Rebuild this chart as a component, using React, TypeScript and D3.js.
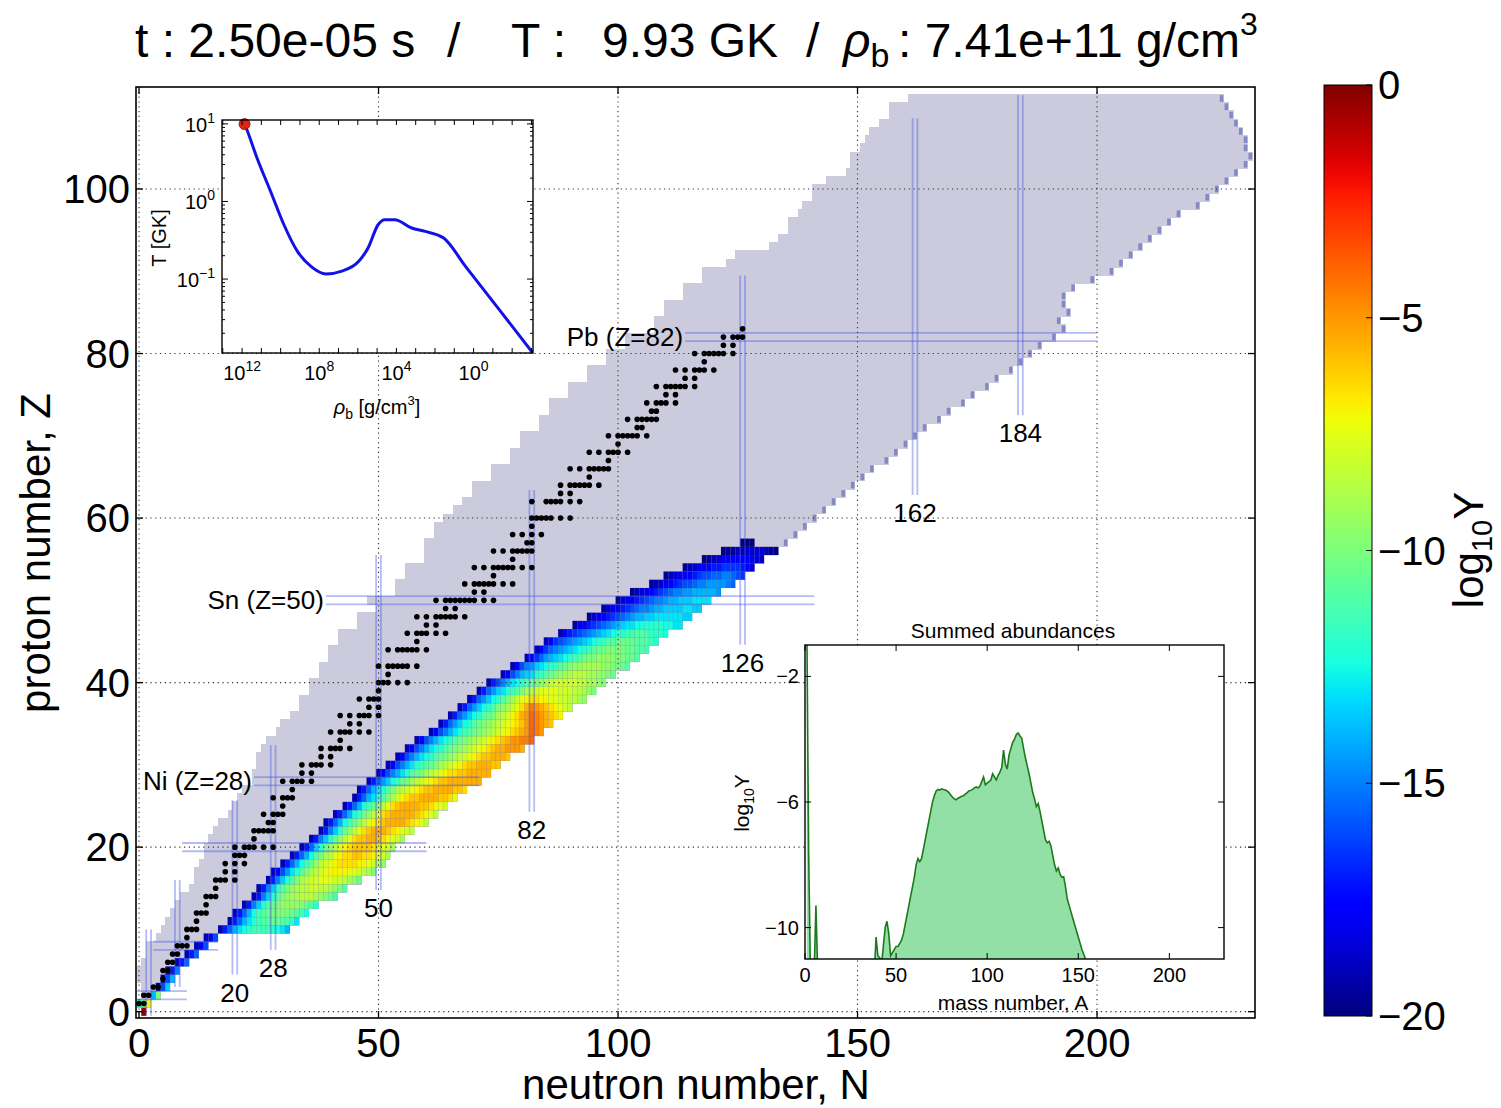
import React from "react";
import * as d3 from "d3";

// ---------------- data ----------------
const mainXTicks = [0, 50, 100, 150, 200];
const mainYTicks = [0, 20, 40, 60, 80, 100];
const colorbarTicks = [0, -5, -10, -15, -20];

// first neutron number of the coloured (abundance) row for Z = 0..57
const abundFirstN = [1, 0, 3, 4, 5, 6, 8, 10, 12, 14,
  17, 19, 20, 22, 24, 25, 27, 28, 30, 32,
  34, 36, 38, 39, 41, 43, 45, 46, 48, 50,
  52, 54, 56, 58, 61, 63, 65, 67, 69, 71,
  73, 76, 78, 81, 83, 85, 88, 91, 94, 97,
  100, 103, 107, 110, 114, 118, 122, 126];

// log10 Y of each cell of the row, from abundFirstN upward (Z = 0..57)
const abundLogY = [
  [-0.3],
  [-12, -10, -7],
  [-14, -10],
  [-19, -16, -13.5],
  [-19, -16, -14],
  [-19, -17, -15],
  [-19, -17, -15.5],
  [-19, -17, -15.5],
  [-19, -17.5, -16],
  [-19, -17.5, -16],
  [-19, -17, -15.5, -14, -13, -12.5, -12, -11.5, -11.5, -11.5, -11.5, -12, -12.5, -13, -14],
  [-19, -17, -15.5, -14, -13, -12, -11.5, -11, -11, -10.5, -10.5, -11, -11, -12, -13],
  [-19, -17, -15.5, -14, -12.5, -11.5, -11, -10.5, -10, -10, -10, -10, -10.5, -11, -11.5, -12.5],
  [-19, -17, -15, -13.5, -12, -11, -10.5, -10, -9.5, -9.5, -9.5, -9.5, -10, -10.5, -11, -12],
  [-19, -17, -15, -13.5, -12, -11, -10, -9.5, -9, -9, -8.5, -8.5, -8.5, -9, -9.5, -10, -10.5, -11.5],
  [-19, -17, -15, -13.5, -12, -11, -10, -9.5, -9, -8.5, -8.5, -8, -8, -8.5, -8.5, -9, -9.5, -10, -11],
  [-19, -17, -15, -13.5, -12, -11, -10, -9, -8.5, -8, -8, -7.5, -7.5, -7.5, -8, -8, -8.5, -9, -9.5, -10.5],
  [-19, -17.5, -16, -14.5, -13, -12, -11, -10, -9, -8.5, -8, -7.5, -7, -7, -7, -7, -7.5, -7.5, -8, -8.5, -9, -10],
  [-19, -17, -15.5, -14, -12.5, -11.5, -10.5, -9.5, -8.5, -8, -7.5, -7, -6.5, -6.5, -6.5, -6.5, -7, -7, -7.5, -8, -8.5, -9.5],
  [-19, -17, -15.5, -14, -12.5, -11, -10, -9, -8.5, -7.5, -7, -6.5, -6.5, -6, -6, -6.5, -6.5, -7, -7.5, -8, -9],
  [-19, -17, -15.5, -13.5, -12, -10.5, -9.5, -8.5, -7.5, -7, -6.5, -6, -6, -6, -6, -6.5, -7, -7.5, -8, -9],
  [-19, -17, -15, -13.5, -12, -10.5, -9.5, -8.5, -7.5, -6.5, -6, -6, -5.5, -5.5, -6, -6.5, -7, -7.5, -8, -9],
  [-19, -17, -15, -13.5, -12, -10.5, -9.5, -8.5, -7.5, -6.5, -6, -5.5, -5.5, -5.5, -6, -6.5, -7, -7.5, -8, -8.5],
  [-19, -17, -15.5, -14, -12.5, -11.5, -10.5, -9.5, -8.5, -7.5, -7, -6.5, -6, -5.5, -5.5, -5.5, -5.5, -6, -6.5, -7, -7.5, -8.5],
  [-19, -17, -15.5, -14, -12.5, -11.5, -10.5, -9.5, -8.5, -7.5, -6.5, -6, -5.5, -5.5, -5.5, -5.5, -5.5, -6, -6.5, -7, -7.5, -8.5],
  [-19, -17, -15.5, -14, -12.5, -11.5, -10.5, -9.5, -8.5, -7.5, -6.5, -6, -5.5, -5.5, -5.5, -5.5, -6, -6, -6.5, -7, -7.5, -8],
  [-19, -17, -15.5, -14, -13, -12, -11, -10, -9, -8, -7, -6.5, -6, -6, -5.5, -5.5, -5.5, -5.5, -6, -6, -6.5, -7.5],
  [-19, -17, -15.5, -14, -13, -12, -11, -10, -9, -8.5, -8, -7.5, -7, -6.5, -6, -6, -5.5, -5.5, -5.5, -5.5, -6, -6, -6.5],
  [-19, -17, -15.5, -14.5, -13.5, -12.5, -11.5, -10.5, -10, -9, -8.5, -8, -7.5, -7, -6.5, -6, -6, -5.5, -5.5, -5.5, -5.5, -5.5, -5.5, -5.5],
  [-19, -17.5, -16, -15, -14, -13, -12, -11, -10.5, -10, -9, -8.5, -8, -7.5, -7, -6.5, -6.5, -6, -6, -5.5, -5.5, -5.5, -5.5, -5.5],
  [-19, -17.5, -16, -15, -14, -13, -12, -11.5, -11, -10.5, -10, -9, -8.5, -8, -7.5, -7, -6.5, -6, -6, -5.5, -5.5, -5.5, -6, -6],
  [-19, -17.5, -16, -15, -14, -13, -12.5, -12, -11, -10.5, -10, -9.5, -9, -8.5, -8, -7.5, -7, -6.5, -6, -6, -5.5, -5.5, -5.5, -6],
  [-19, -17.5, -16, -15, -14, -13, -12.5, -12, -11, -10.5, -10, -9.5, -9, -8.5, -8, -7.5, -7, -6.5, -6, -5.5, -5.5, -5, -5, -5, -5.5],
  [-19, -17.5, -16, -15, -14, -13, -12.5, -12, -11, -10.5, -10, -9.5, -9, -8.5, -8, -7.5, -7, -6.5, -6, -5.5, -5, -5, -4.5, -4.5, -4],
  [-19, -17.5, -16, -15, -14, -13, -12.5, -11.5, -11, -10.5, -10, -9.5, -9, -8.5, -8, -7.5, -7, -6.5, -6, -5.5, -5, -4, -4.5, -5],
  [-19, -17, -15.5, -14.5, -13.5, -12.5, -12, -11, -10.5, -10, -9.5, -9, -8.5, -8, -7.5, -7, -6.5, -6, -5, -4, -4.5, -5, -5.5, -6],
  [-19, -17, -15.5, -14.5, -13.5, -12.5, -12, -11, -10.5, -10, -9, -8.5, -8, -7, -6.5, -5.5, -5, -4, -4.5, -5, -5.5, -6, -6.5, -7],
  [-19, -17, -15.5, -14.5, -13.5, -12.5, -12, -11, -10, -9.5, -9, -8, -7.5, -6.5, -5.5, -4.5, -5, -5.5, -6, -6.5, -7, -7.5, -8, -8.5],
  [-19, -17, -15.5, -14.5, -13.5, -12.5, -12, -11, -10, -9, -8, -7.5, -7, -6.5, -6.5, -7, -7, -7.5, -7.5, -8, -8, -8.5, -8.5, -9, -9.5],
  [-19, -17, -15.5, -14.5, -13.5, -13, -12, -11.5, -11, -10, -9, -8.5, -8, -7.5, -7.5, -7.5, -7.5, -8, -8, -8, -8.5, -8.5, -9, -9.5, -10],
  [-19, -17, -16, -15, -14, -13, -12.5, -12, -11, -10.5, -10, -9.5, -9, -8.5, -8, -8, -8, -8, -8, -8.5, -8.5, -9, -9, -9.5, -10],
  [-19, -17.5, -16, -15, -14, -13.5, -13, -12, -11.5, -11, -10.5, -10, -9.5, -9, -9, -8.5, -8.5, -8.5, -9, -9, -9.5, -9.5, -10, -10.5],
  [-19, -17.5, -16, -15, -14.5, -13.5, -13, -12.5, -12, -11.5, -11, -10.5, -10, -9.5, -9.5, -9, -9, -9, -9, -9.5, -9.5, -10, -10, -10.5, -11],
  [-19, -17.5, -16.5, -15.5, -14.5, -14, -13.5, -13, -12.5, -12, -11.5, -11, -10.5, -10, -10, -9.5, -9.5, -9.5, -9.5, -10, -10, -10.5, -10.5, -11],
  [-19, -17.5, -16.5, -15.5, -15, -14.5, -14, -13.5, -13, -12.5, -12, -11.5, -11, -10.5, -10.5, -10, -10, -10, -10, -10.5, -10.5, -11, -11, -11.5],
  [-19, -17.5, -16.5, -16, -15.5, -15, -14.5, -14, -13.5, -13, -12.5, -12, -11.5, -11, -11, -10.5, -10.5, -10.5, -10.5, -11, -11, -11, -11.5, -12],
  [-19, -18, -17, -16.5, -16, -15.5, -15, -14.5, -14, -13.5, -13, -12.5, -12, -12, -11.5, -11.5, -11, -11, -11.5, -11.5, -12, -12, -12.5],
  [-19.5, -18, -17.5, -17, -16.5, -16, -15.5, -15, -14.5, -14, -13.5, -13, -13, -12.5, -12.5, -12, -12, -12, -12, -12.5, -12.5, -13, -13],
  [-19.5, -18.5, -18, -17.5, -17, -16.5, -16, -15.5, -15, -14.5, -14, -14, -13.5, -13.5, -13, -13, -13, -13, -13, -13, -13.5, -13.5],
  [-19.5, -18.5, -18, -17.5, -17, -16.5, -16, -15.5, -15, -15, -14.5, -14, -14, -13.5, -13.5, -13.5, -13.5, -13, -13, -13.5, -13.5],
  [-19.5, -18.5, -18, -17.5, -17, -16.5, -16, -15.5, -15, -15, -14.5, -14, -14, -13.5, -13.5, -13.5, -13, -13, -13, -13],
  [-19.5, -19, -18.5, -18, -17.5, -17, -16.5, -16, -15.5, -15, -15, -14.5, -14.5, -14, -14, -14, -14, -14, -14.5],
  [-19.5, -19, -18.5, -18, -17.5, -17, -16.5, -16, -16, -15.5, -15, -15, -14.5, -14.5, -14.5, -14.5, -15, -15.5],
  [-19.5, -19, -18.5, -18, -17.5, -17.5, -17, -16.5, -16, -16, -15.5, -15.5, -15, -15, -15.5, -16, -16.5],
  [-19.5, -19, -18.5, -18, -18, -17.5, -17, -17, -16.5, -16.5, -16.5, -16.5, -17, -17.5, -18.5],
  [-20, -19.5, -19, -18.5, -18, -18, -17.5, -17.5, -17.5, -17.5, -18, -18.5, -19],
  [-20, -19.5, -19.5, -19, -19, -18.5, -18.5, -18.5, -18.5, -19, -19.5, -20],
  [-20, -20, -20],
];

// network (grey) region: first N for Z = 0..111
const networkLeftN = [1, 0, 1, 1, 0, 0, 1, 2, 2, 4,
  5, 6, 7, 8, 9, 11, 12, 12, 13, 14,
  14, 15, 16, 17, 19, 20, 21, 22, 24, 24,
  25, 25, 26, 27, 29, 30, 32, 34, 34, 36,
  36, 38, 38, 40, 40, 42, 42, 46, 46, 50,
  48, 54, 54, 56, 56, 60, 60, 60, 62, 62,
  64, 66, 68, 70, 70, 74, 74, 78, 78, 80,
  80, 84, 84, 86, 86, 90, 90, 94, 94, 98,
  98, 102, 102, 108, 108, 110, 110, 114, 114, 118,
  118, 123, 125, 132, 134, 136, 136, 138, 139, 141,
  141, 144, 148, 149, 149, 151, 152, 153, 155, 157,
  157, 161];

// last N of the network (drip-line cells) for Z = 57..111
const networkEdgeStartZ = 57;
const networkEdgeN = [135, 137, 139, 141, 143, 145, 147, 149, 151, 153,
  156, 158, 160, 162, 164, 167, 169, 172, 174, 177,
  179, 182, 184, 186, 188, 191, 193, 192, 194, 193,
  193, 195, 199, 203, 205, 207, 209, 211, 213, 215,
  217, 221, 223, 225, 227, 229, 231, 232, 231, 231,
  230, 229, 228, 227, 226];

// stable nuclei: neutron numbers for Z = 0..83
const stableN = [
  [], [0, 1], [1, 2], [3, 4], [5], [5, 6], [6, 7], [7, 8], [8, 9, 10], [10],
  [10, 11, 12], [12], [12, 13, 14], [14], [14, 15, 16], [16], [16, 17, 18, 20], [18, 20], [18, 20, 22], [20, 21, 22],
  [20, 22, 23, 24, 26, 28], [24], [24, 25, 26, 27, 28], [27, 28], [26, 28, 29, 30], [30], [28, 30, 31, 32], [32], [30, 32, 33, 34, 36], [34, 36],
  [34, 36, 37, 38, 40], [38, 40], [38, 40, 41, 42, 44], [42], [40, 42, 43, 44, 46, 48], [44, 46], [42, 44, 46, 47, 48, 50], [48, 50], [46, 48, 49, 50], [50],
  [50, 51, 52, 54, 56], [52], [50, 52, 53, 54, 55, 56, 58], [], [52, 54, 55, 56, 57, 58, 60], [58], [56, 58, 59, 60, 62, 64], [60, 62], [58, 60, 62, 63, 64, 65, 66, 68], [64, 66],
  [62, 64, 65, 66, 67, 68, 69, 70, 72, 74], [70, 72], [68, 70, 71, 72, 73, 74, 76, 78], [74], [70, 72, 74, 75, 76, 77, 78, 80, 82], [78], [74, 76, 78, 79, 80, 81, 82], [81, 82], [78, 80, 82, 84], [82],
  [82, 83, 84, 85, 86, 88, 90], [], [82, 85, 86, 87, 88, 90, 92], [88, 90], [88, 90, 91, 92, 93, 94, 96], [94], [90, 92, 94, 95, 96, 97, 98], [98], [94, 96, 98, 99, 100, 102], [100],
  [98, 100, 101, 102, 103, 104, 106], [104, 105], [102, 104, 105, 106, 107, 108], [107, 108], [106, 108, 109, 110, 112], [110, 112], [108, 110, 111, 112, 113, 114, 116], [114, 116], [112, 114, 116, 117, 118, 120], [118],
  [116, 118, 119, 120, 121, 122, 124], [122, 124], [122, 124, 125, 126], [126],
];

// magic-number guide lines
const magicZ = [2, 8, 20, 28, 50, 82];
const magicZFromN = [-0.5, 3, 9, 24, 39, 114];
const magicZToN = [10, 16.5, 60, 71, 141, 200];
const magicZLabels = ["", "", "", "Ni (Z=28)", "Sn (Z=50)", "Pb (Z=82)"];
const magicN = [2, 8, 20, 28, 50, 82, 126, 162, 184];
const magicNFromZ = [-0.5, 3, 4.5, 7.5, 14.8, 24.3, 44.6, 62.8, 72.5];
const magicNToZ = [10, 16, 25.7, 32.4, 55.5, 63.4, 89.5, 108.6, 111.4];
const magicNLabels = ["", "", "20", "28", "50", "82", "126", "162", "184"];

// inset 1: trajectory
const trajLogRho = [11.87, 11.78, 11.22, 10.52, 9.83, 9.13, 8.43, 7.65, 6.87, 5.95, 5.47, 4.95, 4.6, 4.08, 3.21, 2.51, 1.55, 0.42, -1.32, -3.06];
const trajLogT = [0.997, 0.944, 0.558, 0.129, -0.3, -0.644, -0.836, -0.934, -0.9, -0.77, -0.6, -0.3, -0.235, -0.235, -0.342, -0.386, -0.471, -0.836, -1.39, -1.95];
const currentRho = 7.41e11;
const currentT = 9.93;
const inset1XLabelDecades = [12, 8, 4, 0];
const inset1YDecades = [-1, 0, 1];

// inset 2: summed abundances
const lightA = [1, 2, 3, 4, 5, 6, 7];
const lightLogY = [-0.3, -7.6, -11.5, -11.5, -11.5, -9.3, -11.5];
const sumStartA = 38;
const sumLogY = [-11.5, -10.3, -10.9, -10.95, -11.2, -10.6, -10.0, -9.8, -10.2, -10.9,
  -10.8, -10.7, -10.6, -10.6, -10.5, -10.4, -10.2, -9.9, -9.6, -9.3,
  -9.0, -8.7, -8.4, -8.0, -7.8, -7.9, -7.8, -7.5, -7.2, -6.9,
  -6.6, -6.3, -6.0, -5.8, -5.65, -5.6, -5.62, -5.58, -5.6, -5.62,
  -5.65, -5.7, -5.78, -5.85, -5.9, -5.93, -5.88, -5.85, -5.82, -5.8,
  -5.75, -5.7, -5.65, -5.63, -5.6, -5.55, -5.52, -5.55, -5.5, -5.35,
  -5.2, -5.45, -5.4, -5.35, -5.3, -5.1, -5.2, -5.3, -5.15, -5.05,
  -4.9, -4.35, -4.8, -4.95, -4.5, -4.3, -4.1, -4.0, -3.85, -3.8,
  -3.9, -3.97, -4.3, -4.6, -4.85, -5.1, -5.4, -5.7, -5.9, -6.15,
  -6.05, -6.3, -6.6, -6.9, -7.2, -7.3, -7.25, -7.4, -7.7, -8.0,
  -8.2, -8.1, -8.3, -8.4, -8.38, -8.7, -9.1, -9.3, -9.5, -9.7,
  -9.9, -10.1, -10.3, -10.5, -10.7, -10.85, -11.0, -11.2, -11.5];
const inset2XTicks = [0, 50, 100, 150, 200];
const inset2YTicks = [-2, -6, -10];

// ---------------- layout ----------------
const FONT = "Liberation Sans, Arial, sans-serif";
const PL = 136, PR = 1255, PT = 87, PB = 1018;
const xMain = d3.scaleLinear().domain([-0.63, 232.98]).range([PL, PR]);
const yMain = d3.scaleLinear().domain([-0.77, 112.4]).range([PB, PT]);

const I1 = { l: 222, t: 120, r: 533, b: 353 };
const xI1 = d3.scaleLog().domain([10 ** 13.04, 10 ** -3.08]).range([I1.l, I1.r]);
const yI1 = d3.scaleLog().domain([10 ** -1.953, 10 ** 1.05]).range([I1.b, I1.t]);

const I2 = { l: 805, t: 645, r: 1224, b: 959 };
const xI2 = d3.scaleLinear().domain([0, 230]).range([I2.l, I2.r]);
const yI2 = d3.scaleLinear().domain([-11, -1]).range([I2.b, I2.t]);

const CB = { l: 1324, r: 1372, t: 85, b: 1016 };
const yCB = d3.scaleLinear().domain([-20, 0]).range([CB.b, CB.t]);

// matplotlib "jet"
const jetR = d3.scaleLinear().domain([0, 0.35, 0.66, 0.89, 1]).range([0, 0, 1, 1, 0.5]).clamp(true);
const jetG = d3.scaleLinear().domain([0, 0.125, 0.375, 0.64, 0.91, 1]).range([0, 0, 1, 1, 0, 0]).clamp(true);
const jetB = d3.scaleLinear().domain([0, 0.11, 0.34, 0.65, 1]).range([0.5, 1, 1, 0, 0]).clamp(true);
const toUnit = d3.scaleLinear().domain([-20, 0]).range([0, 1]).clamp(true);
function jet(v) {
  const t = toUnit(v);
  return d3.rgb(jetR(t) * 255, jetG(t) * 255, jetB(t) * 255).formatHex();
}

const GREY = "#cbcbdd";
const EDGE = "#8389c4";
const MAGIC = "rgba(70,85,230,0.4)";

function rowLast(Z) {
  if (Z >= networkEdgeStartZ) return networkEdgeN[Z - networkEdgeStartZ];
  return abundFirstN[Z] + abundLogY[Z].length - 1;
}

export default function App() {
  const cw = (n) => xMain(n + 0.5) - xMain(n - 0.5);
  const ch = yMain(-0.5) - yMain(0.5);

  const greyRows = networkLeftN.map((left, Z) => {
    const right = rowLast(Z);
    return (
      <rect key={"g" + Z} x={xMain(left - 0.5)} y={yMain(Z + 0.5) - 0.4}
        width={xMain(right + 0.5) - xMain(left - 0.5)} height={ch + 0.8} fill={GREY} />
    );
  });

  const edgeCells = networkEdgeN.map((n, i) => {
    const Z = networkEdgeStartZ + i;
    return (
      <rect key={"e" + Z} x={xMain(n - 0.5) + 0.6} y={yMain(Z + 0.5) + 0.8}
        width={cw(n) - 1.2} height={ch - 1.6} fill={EDGE} />
    );
  });

  const cells = [];
  abundLogY.forEach((row, Z) => {
    row.forEach((v, i) => {
      const n = abundFirstN[Z] + i;
      cells.push(
        <rect key={"c" + Z + "_" + n} x={xMain(n - 0.5)} y={yMain(Z + 0.5)}
          width={cw(n)} height={ch} fill={jet(v)} stroke="rgba(0,0,0,0.13)" strokeWidth={0.5} />
      );
    });
  });

  const magicLines = [];
  magicZ.forEach((z, i) => {
    [-0.5, 0.5].forEach((o) => {
      magicLines.push(
        <line key={"mz" + z + o} x1={xMain(magicZFromN[i])} x2={xMain(magicZToN[i])}
          y1={yMain(z + o)} y2={yMain(z + o)} stroke={MAGIC} strokeWidth={1.8} />
      );
    });
  });
  magicN.forEach((n, i) => {
    [-0.5, 0.5].forEach((o) => {
      magicLines.push(
        <line key={"mn" + n + o} y1={yMain(magicNFromZ[i])} y2={yMain(magicNToZ[i])}
          x1={xMain(n + o)} x2={xMain(n + o)} stroke={MAGIC} strokeWidth={1.8} />
      );
    });
  });

  const dots = [];
  stableN.forEach((ns, Z) => ns.forEach((n) => {
    dots.push(<circle key={"s" + Z + "_" + n} cx={xMain(n)} cy={yMain(Z)} r={2.8} fill="#000" />);
  }));

  const grid = [
    ...mainXTicks.map((t) => (
      <line key={"gx" + t} x1={xMain(t)} x2={xMain(t)} y1={PT} y2={PB} stroke="#333" strokeWidth={1.1} strokeDasharray="1.2,3.6" />
    )),
    ...mainYTicks.map((t) => (
      <line key={"gy" + t} y1={yMain(t)} y2={yMain(t)} x1={PL} x2={PR} stroke="#333" strokeWidth={1.1} strokeDasharray="1.2,3.6" />
    )),
  ];

  const ticks = [];
  mainXTicks.forEach((t) => {
    const x = xMain(t);
    ticks.push(<line key={"tb" + t} x1={x} x2={x} y1={PB} y2={PB - 7} stroke="#000" strokeWidth={1.3} />);
    ticks.push(<line key={"tt" + t} x1={x} x2={x} y1={PT} y2={PT + 7} stroke="#000" strokeWidth={1.3} />);
    ticks.push(<text key={"lx" + t} x={x} y={1057} textAnchor="middle" fontSize={40}>{t}</text>);
  });
  mainYTicks.forEach((t) => {
    const y = yMain(t);
    ticks.push(<line key={"tl" + t} x1={PL} x2={PL + 7} y1={y} y2={y} stroke="#000" strokeWidth={1.3} />);
    ticks.push(<line key={"tr" + t} x1={PR} x2={PR - 7} y1={y} y2={y} stroke="#000" strokeWidth={1.3} />);
    ticks.push(<text key={"ly" + t} x={130} y={y + 14} textAnchor="end" fontSize={40}>{t}</text>);
  });

  const magicLabels = [];
  magicZ.forEach((z, i) => {
    if (!magicZLabels[i]) return;
    magicLabels.push(
      <text key={"lz" + z} x={xMain(magicZFromN[i]) - 2} y={yMain(z) + 9} textAnchor="end" fontSize={26}>{magicZLabels[i]}</text>
    );
  });
  magicN.forEach((n, i) => {
    if (!magicNLabels[i]) return;
    magicLabels.push(
      <text key={"ln" + n} x={xMain(n)} y={yMain(magicNFromZ[i]) + 27} textAnchor="middle" fontSize={26}>{magicNLabels[i]}</text>
    );
  });

  // ---- inset 1 ----
  const trajPts = trajLogRho.map((r, i) => [xI1(10 ** r), yI1(10 ** trajLogT[i])]);
  const trajPath = d3.line().curve(d3.curveMonotoneX)(trajPts);
  const i1Ticks = [];
  d3.range(-3, 14).forEach((k) => {
    const x = xI1(10 ** k);
    i1Ticks.push(<line key={"i1b" + k} x1={x} x2={x} y1={I1.b} y2={I1.b - 5} stroke="#000" strokeWidth={1} />);
    i1Ticks.push(<line key={"i1t" + k} x1={x} x2={x} y1={I1.t} y2={I1.t + 5} stroke="#000" strokeWidth={1} />);
  });
  inset1XLabelDecades.forEach((k) => {
    i1Ticks.push(
      <text key={"i1lx" + k} x={xI1(10 ** k)} y={380} textAnchor="middle" fontSize={20}>
        10<tspan fontSize={14} dy={-9}>{k}</tspan>
      </text>
    );
  });
  [-2, -1, 0, 1].forEach((k) => {
    d3.range(1, 10).forEach((m) => {
      const v = m * 10 ** k;
      const [lo, hi] = yI1.domain();
      if (v < lo || v > hi) return;
      const y = yI1(v);
      const len = m === 1 ? 6 : 3;
      i1Ticks.push(<line key={"i1l" + k + m} x1={I1.l} x2={I1.l + len} y1={y} y2={y} stroke="#000" strokeWidth={1} />);
      i1Ticks.push(<line key={"i1r" + k + m} x1={I1.r} x2={I1.r - len} y1={y} y2={y} stroke="#000" strokeWidth={1} />);
    });
  });
  inset1YDecades.forEach((k) => {
    i1Ticks.push(
      <text key={"i1ly" + k} x={215} y={yI1(10 ** k) + 8} textAnchor="end" fontSize={20}>
        10<tspan fontSize={14} dy={-9}>{k < 0 ? "\u2212" + Math.abs(k) : k}</tspan>
      </text>
    );
  });

  // ---- inset 2 ----
  const sumPts = [
    ...lightA.map((a, i) => [a, lightLogY[i]]),
    ...sumLogY.map((v, i) => [sumStartA + i, v]),
  ];
  const sumArea = d3.area().x((d) => xI2(d[0])).y0(yI2(-11)).y1((d) => yI2(d[1]))(sumPts);
  const sumLine = d3.line().x((d) => xI2(d[0])).y((d) => yI2(d[1]))(sumPts);
  const i2Ticks = [];
  inset2XTicks.forEach((t) => {
    const x = xI2(t);
    i2Ticks.push(<line key={"i2b" + t} x1={x} x2={x} y1={I2.b} y2={I2.b - 6} stroke="#000" strokeWidth={1} />);
    i2Ticks.push(<line key={"i2t" + t} x1={x} x2={x} y1={I2.t} y2={I2.t + 6} stroke="#000" strokeWidth={1} />);
    i2Ticks.push(<text key={"i2lx" + t} x={x} y={982} textAnchor="middle" fontSize={20}>{t}</text>);
  });
  inset2YTicks.forEach((t) => {
    const y = yI2(t);
    i2Ticks.push(<line key={"i2l" + t} x1={I2.l} x2={I2.l + 6} y1={y} y2={y} stroke="#000" strokeWidth={1} />);
    i2Ticks.push(<line key={"i2r" + t} x1={I2.r} x2={I2.r - 6} y1={y} y2={y} stroke="#000" strokeWidth={1} />);
    i2Ticks.push(<text key={"i2ly" + t} x={799} y={y + 7} textAnchor="end" fontSize={20}>{"\u2212" + Math.abs(t)}</text>);
  });

  // ---- colorbar ----
  const gradStops = d3.range(0, 1.0001, 0.02).map((t) => (
    <stop key={"gs" + t} offset={t} stopColor={jet(-20 + 20 * t)} />
  ));

  return (
    <svg width={1501} height={1108} style={{ position: "absolute", left: 0, top: 0, background: "#fff" }}
      fontFamily={FONT}>
      <defs>
        <linearGradient id="jetgrad" x1="0" y1="1" x2="0" y2="0">{gradStops}</linearGradient>
        <clipPath id="mainclip"><rect x={PL} y={PT} width={PR - PL} height={PB - PT} /></clipPath>
        <clipPath id="i2clip"><rect x={I2.l} y={I2.t} width={I2.r - I2.l} height={I2.b - I2.t} /></clipPath>
        <clipPath id="i1clip"><rect x={I1.l} y={I1.t} width={I1.r - I1.l} height={I1.b - I1.t} /></clipPath>
      </defs>
      <rect x={0} y={0} width={1501} height={1108} fill="#fff" />

      <g clipPath="url(#mainclip)">
        <g shapeRendering="crispEdges">{greyRows}</g>
        {edgeCells}
        {cells}
        {magicLines}
        {dots}
        {grid}
      </g>
      <rect x={PL} y={PT} width={PR - PL} height={PB - PT} fill="none" stroke="#000" strokeWidth={1.6} />
      {ticks}
      {magicLabels}

      <text transform={`translate(50,553) rotate(-90)`} textAnchor="middle" fontSize={42}>proton number, Z</text>
      <text x={696} y={1099} textAnchor="middle" fontSize={42}>neutron number, N</text>

      {/* title */}
      <text y={57} fontSize={48}>
        <tspan x={135}>t : 2.50e-05 s</tspan>
        <tspan x={447}>/</tspan>
        <tspan x={511}>T :</tspan>
        <tspan x={602}>9.93 GK</tspan>
        <tspan x={806}>/</tspan>
        <tspan x={843} fontStyle="italic">ρ</tspan>
        <tspan fontSize={34} dy={10}>b</tspan>
        <tspan x={898} dy={-10}>: 7.41e+11 g/cm</tspan>
        <tspan fontSize={32} dy={-22}>3</tspan>
      </text>

      {/* inset 1 */}
      <rect x={I1.l} y={I1.t} width={I1.r - I1.l} height={I1.b - I1.t} fill="#fff" />
      <g clipPath="url(#i1clip)">
        <path d={trajPath} fill="none" stroke="#1212e6" strokeWidth={3} />
      </g>
      <circle cx={xI1(currentRho)} cy={yI1(currentT)} r={5.5} fill="#e32414" stroke="#7a0a00" strokeWidth={0.8} />
      <rect x={I1.l} y={I1.t} width={I1.r - I1.l} height={I1.b - I1.t} fill="none" stroke="#000" strokeWidth={1.4} />
      {i1Ticks}
      <text transform={`translate(166,238) rotate(-90)`} textAnchor="middle" fontSize={20}>T [GK]</text>
      <text x={377} y={414} textAnchor="middle" fontSize={20}>
        <tspan fontStyle="italic">ρ</tspan><tspan fontSize={14} dy={5}>b</tspan><tspan dy={-5}> [g/cm</tspan><tspan fontSize={13} dy={-9}>3</tspan><tspan dy={9}>]</tspan>
      </text>

      {/* inset 2 */}
      <rect x={I2.l} y={I2.t} width={I2.r - I2.l} height={I2.b - I2.t} fill="#fff" />
      <g clipPath="url(#i2clip)">
        <path d={sumArea} fill="#93e0a6" stroke="none" />
        <path d={sumLine} fill="none" stroke="#1c7a1c" strokeWidth={1.6} />
      </g>
      <rect x={I2.l} y={I2.t} width={I2.r - I2.l} height={I2.b - I2.t} fill="none" stroke="#000" strokeWidth={1.4} />
      {i2Ticks}
      <text x={1013} y={638} textAnchor="middle" fontSize={21}>Summed abundances</text>
      <text x={1013} y={1010} textAnchor="middle" fontSize={21}>mass number, A</text>
      <text transform={`translate(749,803) rotate(-90)`} textAnchor="middle" fontSize={21}>
        log<tspan fontSize={14} dy={5}>10</tspan><tspan dy={-5}>Y</tspan>
      </text>

      {/* colorbar */}
      <rect x={CB.l} y={CB.t} width={CB.r - CB.l} height={CB.b - CB.t} fill="url(#jetgrad)" stroke="#000" strokeWidth={1} />
      {colorbarTicks.map((t) => (
        <g key={"cb" + t}>
          <line x1={CB.r} x2={CB.r - 6} y1={yCB(t)} y2={yCB(t)} stroke="#000" strokeWidth={1} />
          <text x={1378} y={yCB(t) + 14} fontSize={40}>{t === 0 ? "0" : "\u2212" + Math.abs(t)}</text>
        </g>
      ))}
      <text transform={`translate(1483,550) rotate(-90)`} textAnchor="middle" fontSize={42}>
        log<tspan fontSize={29} dy={9}>10</tspan><tspan dy={-9}>Y</tspan>
      </text>
    </svg>
  );
}
